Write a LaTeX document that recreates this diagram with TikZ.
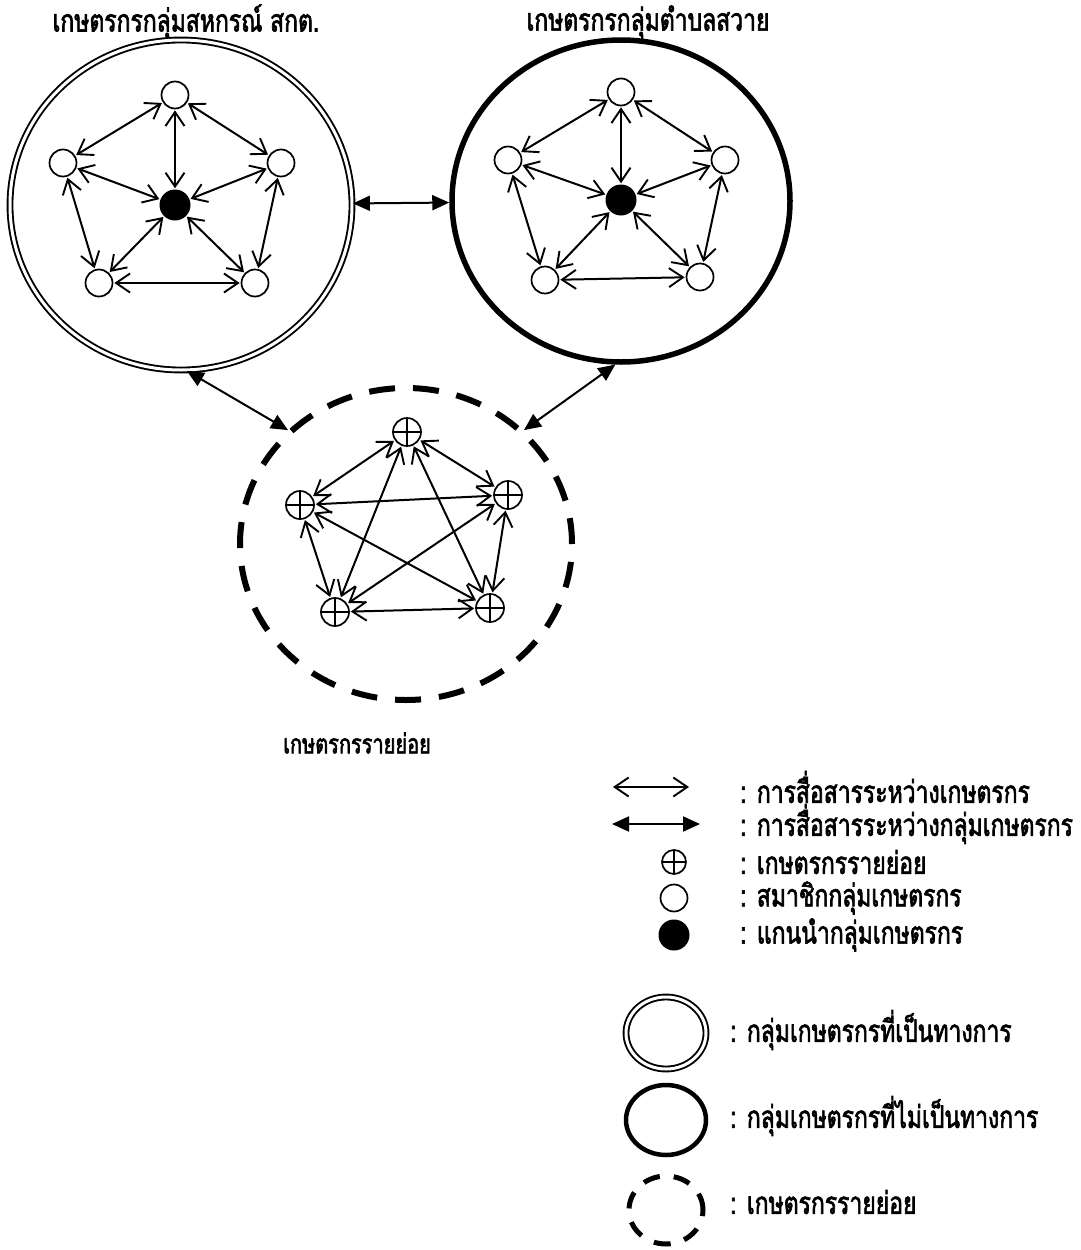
\documentclass[tikz,border=0pt]{standalone}
\usepackage{fontspec}
\newfontfamily\thaib[Script=Thai,FakeStretch=0.74,FakeBold=2]{Loma}
\usetikzlibrary{arrows.meta,shapes.geometric}
\tikzset{
  member/.style={circle,draw,line width=1.7pt,minimum size=27pt,inner sep=0pt,fill=white},
  leader/.style={circle,fill=black,minimum size=31pt,inner sep=0pt},
  smallf/.style={circle,draw,line width=1.7pt,minimum size=28pt,inner sep=0pt,fill=white,
    path picture={\draw[line width=1.5pt] (path picture bounding box.north) -- (path picture bounding box.south)
      (path picture bounding box.west) -- (path picture bounding box.east);}},
  farm/.style={{Straight Barb[length=14pt,width=19pt,line width=1.9pt]}-{Straight Barb[length=14pt,width=19pt,line width=1.9pt]},line width=2pt,shorten <=1pt,shorten >=1pt},
  grp/.style={{Triangle[length=17pt,width=15pt]}-{Triangle[length=17pt,width=15pt]},line width=2pt},
  formal/.style={ellipse,draw,double,double distance=3pt,line width=1.9pt,inner sep=0pt},
  informal/.style={ellipse,draw,line width=5.5pt,inner sep=0pt},
  smallgrp/.style={ellipse,draw,line width=6pt,inner sep=0pt},
  lbl/.style={font=\thaib\fontsize{31}{34}\selectfont,inner sep=0pt},
  leg/.style={lbl,anchor=west},
}
\begin{document}
\begin{tikzpicture}[x=1pt,y=-1pt]
\useasboundingbox[fill=white] (0,0) rectangle (1081,1250);

% titles
\node[lbl] (t1) at (186,22) {เกษตรกรกลุ่มสหกรณ์ สกต.};
\node[lbl] (t2) at (648,22) {เกษตรกรกลุ่มตำบลสวาย};
\node[lbl,font=\thaib\fontsize{27}{30}\selectfont] (t3) at (357,743) {เกษตรกรรายย่อย};

% group outlines
\node[formal,minimum width=342pt,minimum height=330pt] (GL) at (181,205) {};
\node[informal,minimum width=338pt,minimum height=322pt] (GR) at (621,201) {};
\node[smallgrp,dash pattern=on 26pt off 18pt,minimum width=332pt,minimum height=312pt] (GS) at (406,544) {};

% left group
\node[member] (L1) at (175,95) {};
\node[member] (L2) at (63,163) {};
\node[member] (L3) at (281,163) {};
\node[member] (L4) at (99,283) {};
\node[member] (L5) at (255,283) {};
\node[leader] (LC) at (175,205) {};
\foreach \a/\b in {L1/L2,L1/L3,L1/LC,L2/LC,L3/LC,L2/L4,L3/L5,L4/LC,L5/LC,L4/L5}
  \draw[farm] (\a) -- (\b);

% right group
\node[member] (R1) at (621,92) {};
\node[member] (R2) at (508,160) {};
\node[member] (R3) at (725,160) {};
\node[member] (R4) at (545,280) {};
\node[member] (R5) at (700,277) {};
\node[leader] (RC) at (621,200) {};
\foreach \a/\b in {R1/R2,R1/R3,R1/RC,R2/RC,R3/RC,R2/R4,R3/R5,R4/RC,R5/RC,R4/R5}
  \draw[farm] (\a) -- (\b);

% small farmers
\node[smallf] (S1) at (407,432) {};
\node[smallf] (S2) at (300,505) {};
\node[smallf] (S3) at (508,495) {};
\node[smallf] (S4) at (335,612) {};
\node[smallf] (S5) at (490,608) {};
\foreach \a/\b in {S1/S2,S1/S3,S1/S4,S1/S5,S2/S3,S2/S4,S2/S5,S3/S4,S3/S5,S4/S5}
  \draw[farm] (\a) -- (\b);

% between groups
\draw[grp] (GL) -- (GR);
\draw[grp] (GL.-88) -- (GS.136);
\draw[grp] (GR.-92) -- (GS.44.8);

% legend
\coordinate (la1) at (612,787); \coordinate (la2) at (690,787);
\draw[farm] (la1) -- (la2);
\node[leg] (x1) at (740,787) {: การสื่อสารระหว่างเกษตรกร};
\coordinate (lb1) at (612,824); \coordinate (lb2) at (700,824);
\draw[grp] (lb1) -- (lb2);
\node[leg] (x2) at (740,824) {: การสื่อสารระหว่างกลุ่มเกษตรกร};
\node[smallf,minimum size=24pt] (p3) at (674,862) {};
\node[leg] (x3) at (740,862) {: เกษตรกรรายย่อย};
\node[member] (p4) at (674,898) {};
\node[leg] (x4) at (740,898) {: สมาชิกกลุ่มเกษตรกร};
\node[leader] (p5) at (674,935) {};
\node[leg] (x5) at (740,935) {: แกนนำกลุ่มเกษตรกร};
\node[formal,minimum width=80pt,minimum height=72pt] (p6) at (666,1033) {};
\node[leg] (x6) at (730,1030) {: กลุ่มเกษตรกรที่เป็นทางการ};
\node[informal,line width=4.5pt,minimum width=80pt,minimum height=70pt] (p7) at (666,1120) {};
\node[leg] (x7) at (730,1116) {: กลุ่มเกษตรกรที่ไม่เป็นทางการ};
\node[smallgrp,line width=5pt,dash pattern=on 17pt off 14pt,minimum width=74pt,minimum height=68pt] (p8) at (666,1210) {};
\node[leg] (x8) at (730,1202) {: เกษตรกรรายย่อย};
\end{tikzpicture}
\end{document}
